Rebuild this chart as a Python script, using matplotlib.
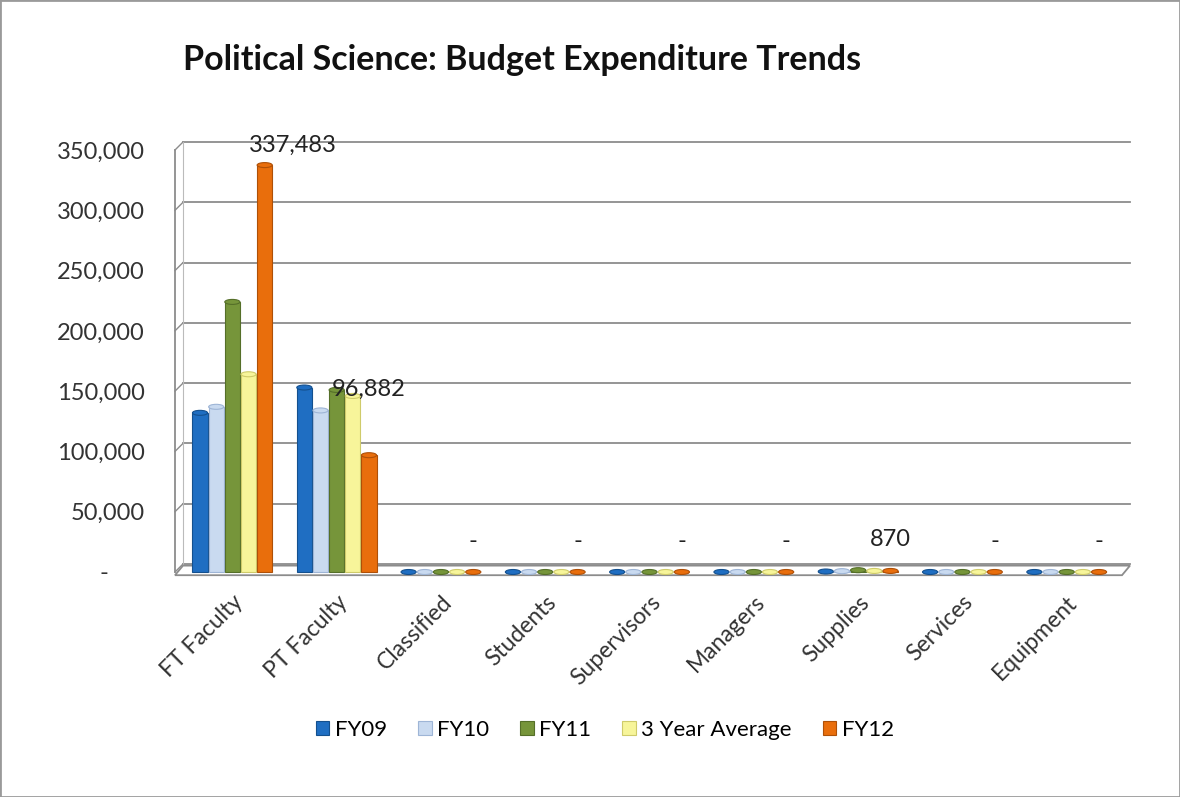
import numpy as np
import matplotlib.pyplot as plt
from matplotlib.patches import Ellipse, Polygon, Rectangle

plt.rcParams['font.family'] = ['Lato', 'DejaVu Sans']

categories = ['FT Faculty', 'PT Faculty', 'Classified', 'Students', 'Supervisors',
              'Managers', 'Supplies', 'Services', 'Equipment']
series = ['FY09', 'FY10', 'FY11', '3 Year Average', 'FY12']
fy09 = [132000, 153000, 0, 0, 0, 0, 400, 0, 0]
fy10 = [137000, 134000, 0, 0, 0, 0, 700, 0, 0]
fy11 = [224000, 151000, 0, 0, 0, 0, 1500, 0, 0]
avg3 = [164000, 146000, 0, 0, 0, 0, 870, 0, 0]
fy12 = [337483, 96882, 0, 0, 0, 0, 870, 0, 0]
yticks = [0, 50000, 100000, 150000, 200000, 250000, 300000, 350000]

colors = ['#1F6EC2', '#C9DAF0', '#76953A', '#F7F59A', '#E96E0C']
edges = ['#14508E', '#9EB5D6', '#556F29', '#CFCB6A', '#AE5008']

fig = plt.figure(figsize=(11.8, 7.97), dpi=100)
ax = fig.add_axes([175 / 1180, 1 - 572 / 797, (1122 - 175) / 1180, (572 - 150) / 797])

ymax = 350000
xmin, xmax = -0.55, 8.53
ax.set_xlim(xmin, xmax)
ax.set_ylim(0, ymax)

# size of a pixel in data units, used for the fake 3D depth
ax_w = (1122 - 175)
ax_h = (572 - 150)
px_x = (xmax - xmin) / ax_w
px_y = ymax / ax_h
dx, dy = 8 * px_x, 8 * px_y

# back wall gridlines + left wall
for v in yticks:
    ax.plot([xmin + dx, xmax + dx], [v + dy, v + dy], color='#8C8C8C', lw=1.3, clip_on=False, zorder=1)
    ax.plot([xmin, xmin + dx], [v, v + dy], color='#8C8C8C', lw=1.0, clip_on=False, zorder=1)
ax.plot([xmin, xmin], [0, ymax], color='#8C8C8C', lw=1.3, clip_on=False, zorder=1)
ax.plot([xmin + dx, xmin + dx], [dy, ymax + dy], color='#BBBBBB', lw=0.8, clip_on=False, zorder=1)

# floor
floor = Polygon([[xmin, -0.4 * dy], [xmax, -0.4 * dy], [xmax + dx, 0.8 * dy], [xmin + dx, 0.8 * dy]],
                closed=True, facecolor='white', edgecolor='#8C8C8C', lw=1.3, clip_on=False, zorder=2)
ax.add_patch(floor)

data = [fy09, fy10, fy11, avg3, fy12]
x = np.arange(len(categories))
step = 0.155
bw = 0.145
cap_h = 5 * px_y
for i, vals in enumerate(data):
    xs = x + (i - 2) * step
    for xi, v in zip(xs, vals):
        if v > 0:
            ax.add_patch(Rectangle((xi - bw / 2, 0), bw, v, facecolor=colors[i],
                                   edgecolor=edges[i], lw=0.8, clip_on=False, zorder=3 + i))
        ax.add_patch(Ellipse((xi, v), bw, cap_h, facecolor=colors[i], edgecolor=edges[i],
                             lw=0.8, clip_on=False, zorder=3 + i))

# data labels for FY12
label_dx = [28, 0] + [0] * 7
label_dy = [20, 66] + [31] * 7
for xi, v, ox, oy in zip(x + 2 * step, fy12, label_dx, label_dy):
    txt = f'{v:,.0f}' if v > 0 else '-'
    ax.annotate(txt, (xi, v), xytext=(ox * 0.72, oy * 0.72), textcoords='offset points',
                ha='center', va='center', fontsize=17, color='#222222', zorder=10)

ax.set_yticks(yticks)
ax.set_yticklabels([f'{v:,}' if v else '-      ' for v in yticks], fontsize=17, color='#333333')
ax.set_xticks(x)
ax.set_xticklabels(categories, rotation=45, ha='right', rotation_mode='anchor',
                   fontsize=16.5, color='#333333')
ax.tick_params(axis='y', length=0, pad=22)
ax.tick_params(axis='x', length=0, pad=14)
for s in ax.spines.values():
    s.set_visible(False)
ax.patch.set_alpha(0)

fig.text(183 / 1180, 1 - 60 / 797, 'Political Science: Budget Expenditure Trends',
         fontsize=24.5, fontweight='bold', va='center', ha='left', color='#111111')

handles = [Rectangle((0, 0), 1, 1, facecolor=c, edgecolor=e, lw=0.8) for c, e in zip(colors, edges)]
fig.legend(handles, series, loc='center', bbox_to_anchor=(605 / 1180, 1 - 730 / 797), ncol=5,
           frameon=False, fontsize=16, handlelength=0.6, handleheight=0.6, handletextpad=0.25,
           columnspacing=1.4)

fig.patches.append(Rectangle((0, 0), 1, 1, transform=fig.transFigure, fill=False,
                             edgecolor='#9A9A9A', lw=2))

fig.savefig('out.png', dpi=100)
